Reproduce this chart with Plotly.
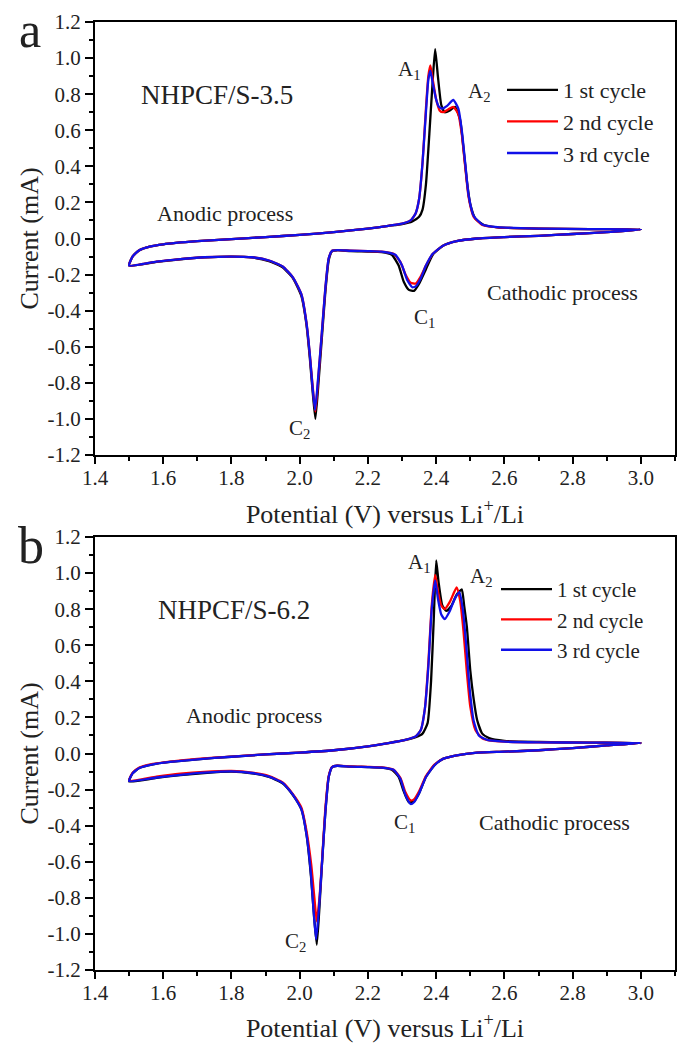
import plotly.graph_objects as go

# ---------------- data ----------------
# Panel a : NHPCF/S-3.5  (each cycle: cathodic scan 3.0 -> 1.5 V, then anodic scan 1.5 -> 3.0 V)
a1_v = [3.00, 2.90, 2.80, 2.70, 2.60, 2.52, 2.46, 2.42, 2.39, 2.37, 2.35, 2.335, 2.32, 2.305, 2.29, 2.27, 2.24, 2.20, 2.15, 2.11,
        2.095, 2.085, 2.075, 2.065, 2.055, 2.046, 2.038, 2.03, 2.02, 2.005, 1.98, 1.95, 1.91, 1.86, 1.80, 1.72, 1.65, 1.58, 1.50,
        1.51, 1.53, 1.56, 1.60, 1.70, 1.80, 1.90, 2.00, 2.10, 2.20, 2.26, 2.30, 2.33, 2.35, 2.36, 2.37, 2.38, 2.39, 2.397, 2.405,
        2.415, 2.425, 2.44, 2.455, 2.47, 2.48, 2.49, 2.50, 2.515, 2.54, 2.58, 2.70, 2.85, 3.00]
a1_i = [0.050, 0.035, 0.025, 0.015, 0.008, 0.000, -0.015, -0.040, -0.090, -0.170, -0.250, -0.290, -0.285, -0.240, -0.150, -0.090, -0.075, -0.072, -0.070, -0.065,
        -0.070, -0.120, -0.300, -0.550, -0.800, -1.000, -0.850, -0.670, -0.480, -0.320, -0.220, -0.160, -0.125, -0.105, -0.100, -0.105, -0.115, -0.130, -0.150,
        -0.100, -0.065, -0.045, -0.032, -0.015, -0.003, 0.008, 0.020, 0.035, 0.055, 0.070, 0.080, 0.095, 0.120, 0.160, 0.300, 0.580, 0.880, 1.050, 0.900,
        0.740, 0.700, 0.710, 0.730, 0.660, 0.500, 0.320, 0.190, 0.110, 0.075, 0.062, 0.055, 0.052, 0.050]

a2_v = [3.00, 2.90, 2.80, 2.70, 2.60, 2.52, 2.46, 2.42, 2.39, 2.37, 2.355, 2.34, 2.325, 2.31, 2.295, 2.275, 2.24, 2.20, 2.15, 2.11,
        2.095, 2.085, 2.075, 2.065, 2.055, 2.046, 2.038, 2.03, 2.02, 2.005, 1.98, 1.95, 1.91, 1.86, 1.80, 1.72, 1.65, 1.58, 1.50,
        1.51, 1.53, 1.56, 1.60, 1.70, 1.80, 1.90, 2.00, 2.10, 2.20, 2.26, 2.30, 2.325, 2.34, 2.35, 2.36, 2.37, 2.377, 2.383, 2.39,
        2.40, 2.41, 2.42, 2.435, 2.45, 2.465, 2.475, 2.485, 2.495, 2.51, 2.535, 2.58, 2.70, 2.85, 3.00]
a2_i = [0.050, 0.035, 0.025, 0.015, 0.008, 0.000, -0.015, -0.040, -0.085, -0.150, -0.210, -0.250, -0.245, -0.200, -0.130, -0.085, -0.073, -0.070, -0.068, -0.064,
        -0.068, -0.110, -0.280, -0.520, -0.760, -0.960, -0.820, -0.650, -0.470, -0.310, -0.215, -0.155, -0.122, -0.104, -0.100, -0.104, -0.114, -0.128, -0.150,
        -0.100, -0.065, -0.045, -0.032, -0.015, -0.003, 0.008, 0.020, 0.035, 0.055, 0.070, 0.082, 0.100, 0.140, 0.220, 0.420, 0.720, 0.900, 0.960, 0.880,
        0.770, 0.710, 0.700, 0.715, 0.730, 0.690, 0.580, 0.400, 0.230, 0.120, 0.075, 0.062, 0.055, 0.052, 0.050]

a3_v = [3.00, 2.90, 2.80, 2.70, 2.60, 2.52, 2.46, 2.42, 2.39, 2.37, 2.355, 2.34, 2.33, 2.315, 2.30, 2.28, 2.24, 2.20, 2.15, 2.11,
        2.095, 2.085, 2.075, 2.065, 2.055, 2.045, 2.037, 2.03, 2.02, 2.005, 1.98, 1.95, 1.91, 1.86, 1.80, 1.72, 1.65, 1.58, 1.50,
        1.51, 1.53, 1.56, 1.60, 1.70, 1.80, 1.90, 2.00, 2.10, 2.20, 2.26, 2.30, 2.325, 2.34, 2.35, 2.36, 2.37, 2.377, 2.383, 2.39,
        2.40, 2.408, 2.418, 2.432, 2.45, 2.465, 2.475, 2.485, 2.495, 2.51, 2.535, 2.58, 2.70, 2.85, 3.00]
a3_i = [0.050, 0.035, 0.025, 0.015, 0.008, 0.000, -0.015, -0.040, -0.085, -0.150, -0.220, -0.265, -0.270, -0.230, -0.150, -0.090, -0.073, -0.070, -0.068, -0.064,
        -0.068, -0.110, -0.280, -0.520, -0.750, -0.950, -0.810, -0.650, -0.470, -0.310, -0.215, -0.155, -0.122, -0.104, -0.100, -0.104, -0.114, -0.128, -0.150,
        -0.100, -0.065, -0.045, -0.032, -0.015, -0.003, 0.008, 0.020, 0.035, 0.055, 0.070, 0.082, 0.100, 0.140, 0.220, 0.420, 0.700, 0.880, 0.930, 0.860,
        0.770, 0.730, 0.720, 0.735, 0.768, 0.720, 0.600, 0.420, 0.240, 0.125, 0.078, 0.063, 0.055, 0.052, 0.050]

# Panel b : NHPCF/S-6.2
b1_v = [3.00, 2.90, 2.80, 2.70, 2.60, 2.52, 2.46, 2.42, 2.395, 2.37, 2.35, 2.335, 2.32, 2.305, 2.29, 2.27, 2.24, 2.20, 2.15, 2.11,
        2.095, 2.085, 2.075, 2.065, 2.057, 2.05, 2.042, 2.033, 2.02, 2.005, 1.98, 1.95, 1.91, 1.86, 1.80, 1.72, 1.65, 1.58, 1.50,
        1.51, 1.53, 1.57, 1.62, 1.70, 1.80, 1.90, 2.00, 2.10, 2.20, 2.26, 2.31, 2.34, 2.36, 2.375, 2.385, 2.393, 2.40, 2.407,
        2.418, 2.43, 2.445, 2.46, 2.475, 2.482, 2.49, 2.50, 2.51, 2.52, 2.535, 2.555, 2.60, 2.70, 2.85, 3.00]
b1_i = [0.058, 0.045, 0.030, 0.018, 0.010, 0.005, -0.010, -0.030, -0.065, -0.130, -0.220, -0.265, -0.270, -0.210, -0.130, -0.090, -0.078, -0.075, -0.073, -0.068,
        -0.075, -0.130, -0.330, -0.620, -0.880, -1.060, -0.900, -0.680, -0.450, -0.310, -0.230, -0.165, -0.130, -0.110, -0.100, -0.108, -0.120, -0.135, -0.155,
        -0.110, -0.080, -0.060, -0.047, -0.032, -0.018, -0.005, 0.005, 0.018, 0.040, 0.058, 0.075, 0.090, 0.110, 0.170, 0.400, 0.750, 1.070, 0.950,
        0.820, 0.790, 0.820, 0.880, 0.910, 0.820, 0.700, 0.460, 0.300, 0.186, 0.110, 0.085, 0.070, 0.064, 0.060, 0.058]

b2_v = [3.00, 2.90, 2.80, 2.70, 2.60, 2.52, 2.46, 2.42, 2.395, 2.37, 2.35, 2.335, 2.325, 2.31, 2.295, 2.275, 2.24, 2.20, 2.15, 2.11,
        2.095, 2.085, 2.075, 2.066, 2.058, 2.05, 2.043, 2.034, 2.02, 2.005, 1.98, 1.95, 1.91, 1.86, 1.80, 1.72, 1.65, 1.58, 1.50,
        1.51, 1.53, 1.57, 1.62, 1.70, 1.80, 1.90, 2.00, 2.10, 2.20, 2.26, 2.31, 2.34, 2.355, 2.367, 2.377, 2.387, 2.397, 2.405,
        2.415, 2.425, 2.44, 2.46, 2.47, 2.48, 2.49, 2.50, 2.515, 2.535, 2.56, 2.60, 2.70, 2.85, 3.00]
b2_i = [0.058, 0.045, 0.030, 0.018, 0.010, 0.005, -0.010, -0.030, -0.062, -0.125, -0.210, -0.255, -0.260, -0.215, -0.135, -0.090, -0.077, -0.074, -0.072, -0.067,
        -0.074, -0.125, -0.310, -0.580, -0.800, -0.930, -0.800, -0.620, -0.430, -0.300, -0.225, -0.160, -0.125, -0.106, -0.097, -0.102, -0.112, -0.128, -0.150,
        -0.108, -0.078, -0.058, -0.045, -0.030, -0.017, -0.005, 0.005, 0.018, 0.040, 0.058, 0.076, 0.095, 0.130, 0.250, 0.500, 0.820, 0.990, 0.900,
        0.820, 0.800, 0.840, 0.920, 0.850, 0.680, 0.450, 0.260, 0.130, 0.085, 0.072, 0.066, 0.062, 0.060, 0.058]

b3_v = [3.00, 2.90, 2.80, 2.70, 2.60, 2.52, 2.46, 2.42, 2.395, 2.37, 2.35, 2.335, 2.325, 2.31, 2.295, 2.275, 2.24, 2.20, 2.15, 2.11,
        2.095, 2.085, 2.075, 2.065, 2.056, 2.048, 2.041, 2.033, 2.02, 2.005, 1.98, 1.95, 1.91, 1.86, 1.80, 1.72, 1.65, 1.58, 1.50,
        1.51, 1.53, 1.57, 1.62, 1.70, 1.80, 1.90, 2.00, 2.10, 2.20, 2.26, 2.31, 2.34, 2.355, 2.367, 2.377, 2.387, 2.397, 2.405,
        2.415, 2.425, 2.44, 2.455, 2.468, 2.478, 2.488, 2.498, 2.51, 2.525, 2.55, 2.60, 2.70, 2.85, 3.00]
b3_i = [0.058, 0.045, 0.030, 0.018, 0.010, 0.005, -0.010, -0.030, -0.065, -0.130, -0.220, -0.270, -0.280, -0.230, -0.140, -0.090, -0.078, -0.075, -0.073, -0.068,
        -0.075, -0.130, -0.330, -0.620, -0.870, -1.030, -0.880, -0.670, -0.450, -0.310, -0.228, -0.163, -0.128, -0.108, -0.099, -0.106, -0.118, -0.133, -0.153,
        -0.110, -0.080, -0.060, -0.047, -0.032, -0.018, -0.005, 0.005, 0.018, 0.040, 0.058, 0.076, 0.095, 0.130, 0.250, 0.480, 0.800, 0.960, 0.860,
        0.770, 0.745, 0.790, 0.860, 0.895, 0.800, 0.600, 0.360, 0.180, 0.100, 0.075, 0.066, 0.062, 0.060, 0.058]

cycle_names = ["1 st cycle", "2 nd cycle", "3 rd cycle"]
cycle_colors = ["#000000", "#ff0000", "#1010e8"]
panel_titles = ["NHPCF/S-3.5", "NHPCF/S-6.2"]
x_ticks = [1.4, 1.6, 1.8, 2.0, 2.2, 2.4, 2.6, 2.8, 3.0]
y_ticks = [-1.2, -1.0, -0.8, -0.6, -0.4, -0.2, 0.0, 0.2, 0.4, 0.6, 0.8, 1.0, 1.2]

FONT = "Liberation Serif, Times New Roman, serif"

fig = go.Figure()

panels = [
    ([(a1_v, a1_i), (a2_v, a2_i), (a3_v, a3_i)], "x", "y", "legend"),
    ([(b1_v, b1_i), (b2_v, b2_i), (b3_v, b3_i)], "x2", "y2", "legend2"),
]
for curves, xa, ya, lg in panels:
    for (v, i), name, col in zip(curves, cycle_names, cycle_colors):
        fig.add_trace(go.Scatter(
            x=v, y=i, mode="lines", name=name, xaxis=xa, yaxis=ya, legend=lg,
            line=dict(color=col, width=2.3, shape="spline", smoothing=0.5),
        ))

W, H = 677, 1043
def px(xp):
    return xp / W
def py(yp):
    return 1 - yp / H

axis_common = dict(
    showline=True, linecolor="black", linewidth=2, mirror=True,
    ticks="outside", tickcolor="black", tickwidth=2,
    showgrid=False, zeroline=False, automargin=False,
    tickfont=dict(family=FONT, size=21, color="#222"),
    title_font=dict(family=FONT, size=26, color="#222"),
)

xaxis_cfg = dict(axis_common, range=[1.4, 3.1], tickvals=x_ticks, ticktext=[f"{t:.1f}" for t in x_ticks],
                 ticklen=7, ticklabelstandoff=-4,
                 minor=dict(ticks="outside", dtick=0.1, tick0=1.4, ticklen=4, tickwidth=2, tickcolor="black"),
                 title_text="Potential (V) versus Li<sup>+</sup>/Li", title_standoff=16)
yaxis_cfg = dict(axis_common, range=[-1.2, 1.2], tickvals=y_ticks, ticktext=[f"{t:.1f}" for t in y_ticks],
                 ticklen=8, minor=dict(ticks="outside", dtick=0.1, tick0=-1.2, ticklen=4, tickwidth=2, tickcolor="black"),
                 title_text="Current (mA)", title_standoff=1)

fig.update_layout(
    width=W, height=H, margin=dict(l=0, r=0, t=0, b=0, autoexpand=False),
    paper_bgcolor="white", plot_bgcolor="white",
    font=dict(family=FONT, color="#222"),
    xaxis=dict(xaxis_cfg, domain=[px(95), px(675)], anchor="y"),
    yaxis=dict(yaxis_cfg, domain=[py(455), py(22)], anchor="x"),
    xaxis2=dict(xaxis_cfg, domain=[px(95), px(675)], anchor="y2"),
    yaxis2=dict(yaxis_cfg, domain=[py(970), py(537)], anchor="x2"),
    legend=dict(x=px(502), y=py(69), xanchor="left", yanchor="top", bgcolor="rgba(0,0,0,0)",
                font=dict(family=FONT, size=22, color="#222"), itemwidth=51, tracegroupgap=0),
    legend2=dict(x=px(496), y=py(569), xanchor="left", yanchor="top", bgcolor="rgba(0,0,0,0)",
                 font=dict(family=FONT, size=21, color="#222"), itemwidth=51, tracegroupgap=0),
)

def note(text, x, y, xr, yr, size=21, yanchor="middle"):
    fig.add_annotation(text=text, x=x, y=y, xref=xr, yref=yr, showarrow=False,
                       font=dict(family=FONT, size=size, color="#222"), xanchor="center", yanchor=yanchor)

# panel letters
note("a", px(30), py(0), "paper", "paper", size=50, yanchor="top")
note("b", px(31), py(545), "paper", "paper", size=52)

# panel a labels (data coordinates)
note(panel_titles[0], 1.757, 0.795, "x", "y", size=27)
note("Anodic process", 1.78, 0.141, "x", "y", size=22)
note("Cathodic process", 2.771, -0.297, "x", "y", size=22)
note("A<sub>1</sub>", 2.321, 0.934, "x", "y")
note("A<sub>2</sub>", 2.526, 0.812, "x", "y")
note("C<sub>1</sub>", 2.365, -0.441, "x", "y")
note("C<sub>2</sub>", 2.0, -1.056, "x", "y")

# panel b labels
note(panel_titles[1], 1.806, 0.795, "x2", "y2", size=27)
note("Anodic process", 1.865, 0.208, "x2", "y2", size=22)
note("Cathodic process", 2.748, -0.385, "x2", "y2", size=22)
note("A<sub>1</sub>", 2.35, 1.056, "x2", "y2")
note("A<sub>2</sub>", 2.532, 0.978, "x2", "y2")
note("C<sub>1</sub>", 2.306, -0.385, "x2", "y2")
note("C<sub>2</sub>", 1.988, -1.045, "x2", "y2")

fig.write_html("out.html")
